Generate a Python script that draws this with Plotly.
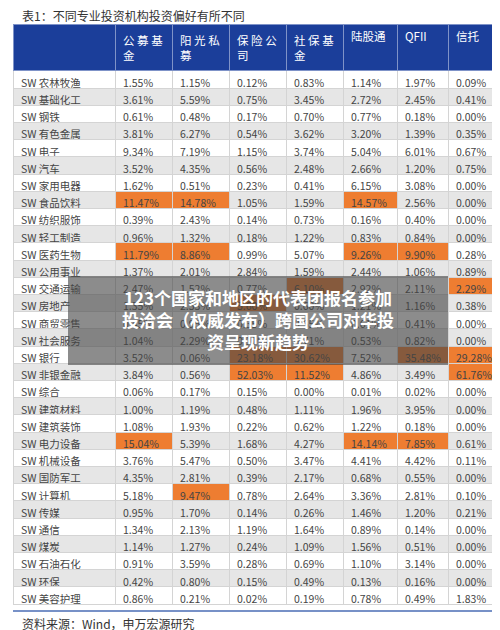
import plotly.graph_objects as go

industries = ["农林牧渔","基础化工","钢铁","有色金属","电子","汽车","家用电器","食品饮料","纺织服饰","轻工制造",
              "医药生物","公用事业","交通运输","房地产","商贸零售","社会服务","银行","非银金融","综合","建筑材料",
              "建筑装饰","电力设备","机械设备","国防军工","计算机","传媒","通信","煤炭","石油石化","环保","美容护理"]
headers = ["公 募 基<br>金","阳 光 私<br>募","保 险 公<br>司","社 保 基<br>金","陆股通","QFII","信托"]
public_fund = [1.55,3.61,0.61,3.81,9.34,3.52,1.62,11.47,0.39,0.96,11.79,1.37,2.47,1.35,0.45,1.04,3.52,3.84,0.06,1.00,1.08,15.04,3.76,4.35,5.18,0.95,1.34,1.14,0.91,0.42,0.86]
private_fund = [1.15,5.59,0.48,6.27,7.19,4.35,0.51,14.78,2.43,1.32,8.86,2.01,1.52,2.53,0.95,2.29,0.06,0.56,0.17,1.19,1.93,5.39,5.47,2.81,9.47,1.70,2.13,1.27,3.59,0.80,0.21]
insurance = [0.12,0.75,0.17,0.54,1.15,0.56,0.23,1.05,0.14,0.18,0.99,2.84,0.77,5.60,0.35,0.11,23.18,52.03,0.15,0.48,0.22,1.68,0.50,0.39,0.78,0.14,1.19,0.24,0.28,0.15,0.02]
social = [0.83,3.45,0.70,3.62,3.74,2.48,0.41,1.59,0.73,1.22,5.07,1.59,6.10,0.60,0.55,0.71,30.62,11.52,0.00,1.11,0.62,4.27,3.47,2.17,2.64,0.26,1.64,1.09,0.69,0.49,0.19]
hk_connect = [1.14,2.72,0.77,3.20,5.04,2.66,6.15,14.57,0.16,0.83,9.26,2.44,2.92,1.21,0.61,0.53,7.52,4.86,0.01,1.96,1.22,14.14,4.41,0.68,3.36,1.46,0.89,1.56,1.10,0.13,0.78]
qfii = [1.97,2.45,0.18,1.39,6.01,1.20,3.08,2.56,0.40,0.84,9.90,1.06,2.11,1.16,0.41,0.82,35.48,3.49,0.02,3.95,0.18,7.85,4.42,0.55,2.81,1.20,0.14,0.51,3.14,0.16,0.49]
trust = [0.09,0.41,0.00,0.35,0.67,0.75,0.00,0.00,0.00,0.00,0.28,0.89,2.29,0.38,0.00,0.00,29.28,61.76,0.00,0.00,0.00,0.61,0.11,0.00,0.10,0.21,0.00,0.00,0.00,0.00,1.83]
highlight = {
    0: [7,10,21],
    1: [7,10,24],
    2: [13,16,17],
    3: [12,16,17],
    4: [7,10,21],
    5: [10,16,21],
    6: [12,16,17],
}

cols = [public_fund, private_fund, insurance, social, hk_connect, qfii, trust]
n = len(industries)
base = ["#ffffff" if i % 2 == 0 else "#e6e6e6" for i in range(n)]
fills = [base]
values = [["SW " + s for s in industries]]
for ci, c in enumerate(cols):
    f = list(base)
    for r in highlight[ci]:
        f[r] = "#ee7d31"
    fills.append(f)
    values.append([f"{v:.2f}%" for v in c])

W, H = 500, 630
top, bottom = 17, 603
fig = go.Figure(go.Table(
    domain=dict(x=[5/W, 493/W], y=[0, 1 - (top - 1)/H]),
    columnwidth=[102, 57, 57, 57, 57, 54, 51, 53],
    header=dict(values=[""] + headers, fill_color="#1b3e9a", height=20,
                font=dict(color="white", size=11.5, family="Noto Sans CJK SC"),
                align="left", line=dict(color="#7f93c8", width=1)),
    cells=dict(values=values, fill_color=fills, height=17.2,
               font=dict(color="#444", size=10.5, family="Noto Sans CJK SC"),
               align="left", line=dict(color="#d4d4d4", width=1)),
))
fig.update_layout(
    width=W, height=H, margin=dict(l=0, r=0, t=0, b=0),
    paper_bgcolor="white",
    font=dict(family="Noto Sans CJK SC"),
    annotations=[
        dict(text="表1：不同专业投资机构投资偏好有所不同", x=12/W, y=1 - 8/H, xref="paper", yref="paper",
             xanchor="left", yanchor="middle", showarrow=False, font=dict(size=12, color="#333")),
        dict(text="资料来源：Wind，申万宏源研究", x=12/W, y=1 - 615/H, xref="paper", yref="paper",
             xanchor="left", yanchor="middle", showarrow=False, font=dict(size=12, color="#333")),
        dict(text="<b>123个国家和地区的代表团报名参加<br>投洽会（权威发布）跨国公司对华投<br>资呈现新趋势</b>",
             x=250/W, y=1 - 311/H, xref="paper", yref="paper", xanchor="center", yanchor="middle",
             showarrow=False, font=dict(size=17, color="white", family="Noto Sans CJK SC"),
             align="center"),
    ],
    shapes=[
        dict(type="rect", xref="paper", yref="paper", x0=60/W, x1=440/W, y0=1 - 357/H, y1=1 - 268/H,
             fillcolor="rgba(70,70,70,0.62)", line=dict(width=0), layer="above"),
        dict(type="line", xref="paper", yref="paper", x0=5/W, x1=493/W, y0=1 - bottom/H, y1=1 - bottom/H,
             line=dict(color="#4a6db5", width=1.5)),
    ],
)
fig.write_html("out.html")
